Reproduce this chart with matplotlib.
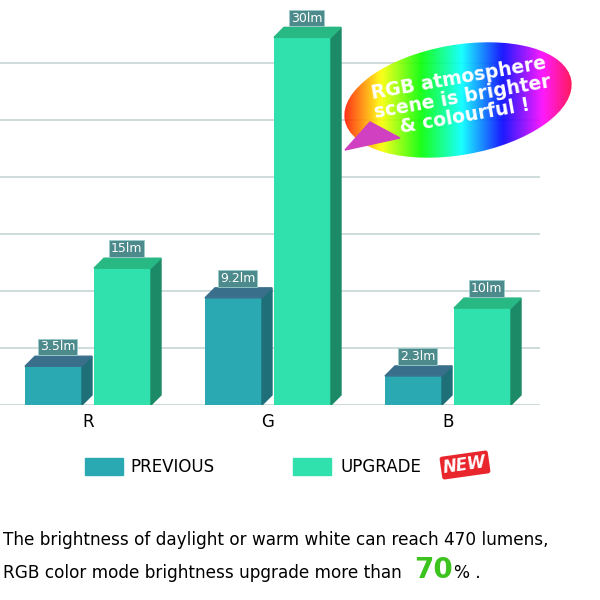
import numpy as np
import matplotlib.pyplot as plt
from matplotlib.patches import Ellipse, Rectangle, Polygon

groups = ["R", "G", "B"]
prev_labels = ["3.5lm", "9.2lm", "2.3lm"]
up_labels = ["15lm", "30lm", "10lm"]
# visual bar heights in grid units as drawn in the picture
prev_h = [0.68, 1.88, 0.51]
up_h = [2.4, 6.45, 1.7]

c_prev, c_prev_side, c_prev_top = "#2aa9b3", "#1f6f78", "#3a6f8c"
c_up, c_up_side, c_up_top = "#30e0ad", "#1c8a66", "#28b884"

fig = plt.figure(figsize=(6, 6), dpi=100)
H = 405
ax = fig.add_axes([0, (600 - H) / 600, 540 / 600, H / 600])
ax.set_xlim(0, 540)
unit = 57.0
ax.set_ylim(0, H / unit)
ax.axis("off")
for k in range(0, 7):
    ax.axhline(k, color="#c5d6d6", lw=1.2, zorder=0)

centers = [88, 268, 448]
w = 57
dx, dy = 10, 10 / unit


def bar3d(x0, h, front, side, top, label):
    ax.bar(x0, h, width=w, align="edge", color=front, zorder=3)
    ax.add_patch(Polygon([(x0 + w, 0), (x0 + w + dx, dy), (x0 + w + dx, h + dy), (x0 + w, h)],
                         color=side, zorder=3))
    ax.add_patch(Polygon([(x0, h), (x0 + dx, h + dy), (x0 + w + dx, h + dy), (x0 + w, h)],
                         color=top, zorder=3))
    ax.text(x0 + w / 2 + 4, h + dy + 0.05, label, ha="center", va="bottom", color="white",
            fontsize=9, zorder=5,
            bbox=dict(boxstyle="square,pad=0.15", fc="#4d8a8c", ec="#9cc", lw=0.6))


for i, c in enumerate(centers):
    bar3d(c - 63, prev_h[i], c_prev, c_prev_side, c_prev_top, prev_labels[i])
    bar3d(c + 6, up_h[i], c_up, c_up_side, c_up_top, up_labels[i])
    fig.text(c / 600, 1 - 422 / 600, groups[i], ha="center", va="center", fontsize=12)

# legend
fig.patches.append(Rectangle((85 / 600, 1 - 475 / 600), 38 / 600, 17 / 600,
                             transform=fig.transFigure, color=c_prev))
fig.text(130 / 600, 1 - 467 / 600, "PREVIOUS", va="center", fontsize=12)
fig.patches.append(Rectangle((293 / 600, 1 - 475 / 600), 38 / 600, 17 / 600,
                             transform=fig.transFigure, color=c_up))
fig.text(340 / 600, 1 - 467 / 600, "UPGRADE", va="center", fontsize=12)
fig.text(465 / 600, 1 - 465 / 600, "NEW", va="center", ha="center", fontsize=12,
         color="white", fontweight="bold", style="italic", rotation=8,
         bbox=dict(boxstyle="round,pad=0.15", fc="#e8262c", ec="none"))

# bubble
bax = fig.add_axes([0, 0, 1, 1], zorder=6)
bax.set_xlim(0, 600)
bax.set_ylim(600, 0)
bax.axis("off")
grad = np.linspace(0, 1, 256)[None, :]
img = bax.imshow(grad, cmap="hsv", extent=(340, 580, 40, 160), aspect="auto", alpha=0.9)
ell = Ellipse((458, 100), 230, 110, angle=-10, transform=bax.transData)
img.set_clip_path(ell)
bax.add_patch(Polygon([(370, 122), (345, 150), (400, 138)], color="#d040c0"))
bax.text(462, 97, "RGB atmosphere\nscene is brighter\n& colourful !", ha="center", va="center",
         color="white", fontsize=13.5, fontweight="bold", rotation=10, linespacing=1.0)

fig.text(3 / 600, 1 - 540 / 600, "The brightness of daylight or warm white can reach 470 lumens,",
         va="center", fontsize=12.2)
fig.text(3 / 600, 1 - 573 / 600, "RGB color mode brightness upgrade more than", va="center", fontsize=12.2)
fig.text(414 / 600, 1 - 570 / 600, "70", va="center", fontsize=20, color="#3cc31e", fontweight="bold")
fig.text(454 / 600, 1 - 573 / 600, "% .", va="center", fontsize=12.2)

fig.savefig("out.png", dpi=100)
